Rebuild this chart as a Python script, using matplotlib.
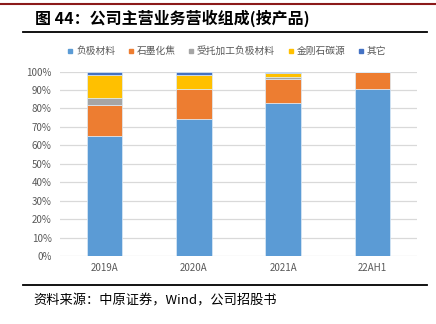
import matplotlib.pyplot as plt
import numpy as np
from matplotlib.lines import Line2D

plt.rcParams['font.family'] = ['Noto Sans CJK SC', 'DejaVu Sans']

years = ['2019A', '2020A', '2021A', '22AH1']
names = ['负极材料', '石墨化焦', '受托加工负极材料', '金刚石碳源', '其它']
anode = [65.2, 74.0, 82.7, 90.6]
graph_coke = [16.6, 16.3, 13.5, 8.9]
contract = [3.8, 0.0, 0.6, 0.0]
diamond = [12.6, 7.9, 2.4, 0.0]
other = [1.8, 1.8, 0.8, 0.5]
colors = ['#5B9BD5', '#ED7D31', '#A5A5A5', '#FFC000', '#4472C4']

fig = plt.figure(figsize=(4.36, 3.24), dpi=100)
ax = fig.add_axes([60/436, 68/324, 357/436, 184.5/324])

x = np.arange(len(years))
bottom = np.zeros(len(years))
for vals, c, n in zip([anode, graph_coke, contract, diamond, other], colors, names):
    ax.bar(x, vals, 0.4, bottom=bottom, color=c, edgecolor='#DDEBF7', linewidth=0.5, label=n, zorder=3)
    bottom += np.array(vals)

ax.set_xlim(-0.5, 3.5)
ax.set_ylim(0, 100)
ax.set_yticks(range(0, 101, 10))
ax.set_yticklabels([f'{v}%' for v in range(0, 101, 10)])
ax.set_xticks(x)
ax.set_xticklabels(years)
ax.grid(axis='y', color='#D9D9D9', linewidth=0.9, zorder=0)
for s in ax.spines.values():
    s.set_visible(False)
ax.tick_params(axis='y', length=0, labelsize=7, colors='#595959', pad=6)
ax.tick_params(axis='x', length=0, labelsize=7, colors='#595959', pad=5)

handles = [Line2D([], [], marker='s', linestyle='', color=c, markersize=3.5) for c in colors]
fig.legend(handles, names, loc='center', bbox_to_anchor=(0.52, 1 - 51/324), ncol=5,
           frameon=False, fontsize=7, handlelength=0.6, handletextpad=0.3,
           columnspacing=1.3, labelcolor='#595959')

# header / footer rules
fig.add_artist(Line2D([0, 1], [1 - 4/324] * 2, color='#8B1A1A', linewidth=1.5))
fig.add_artist(Line2D([23/436, 427/436], [1 - 32/324] * 2, color='black', linewidth=1.3))
fig.add_artist(Line2D([23/436, 427/436], [1 - 285/324] * 2, color='black', linewidth=1.3))

fig.text(35/436, 1 - 18/324, '图 44：公司主营业务营收组成(按产品)', fontsize=11.5,
         fontweight='bold', va='center', ha='left')
fig.text(33/436, 1 - 301/324, '资料来源：中原证券，Wind，公司招股书', fontsize=9.5,
         va='center', ha='left')

fig.savefig('out.png', dpi=100)
